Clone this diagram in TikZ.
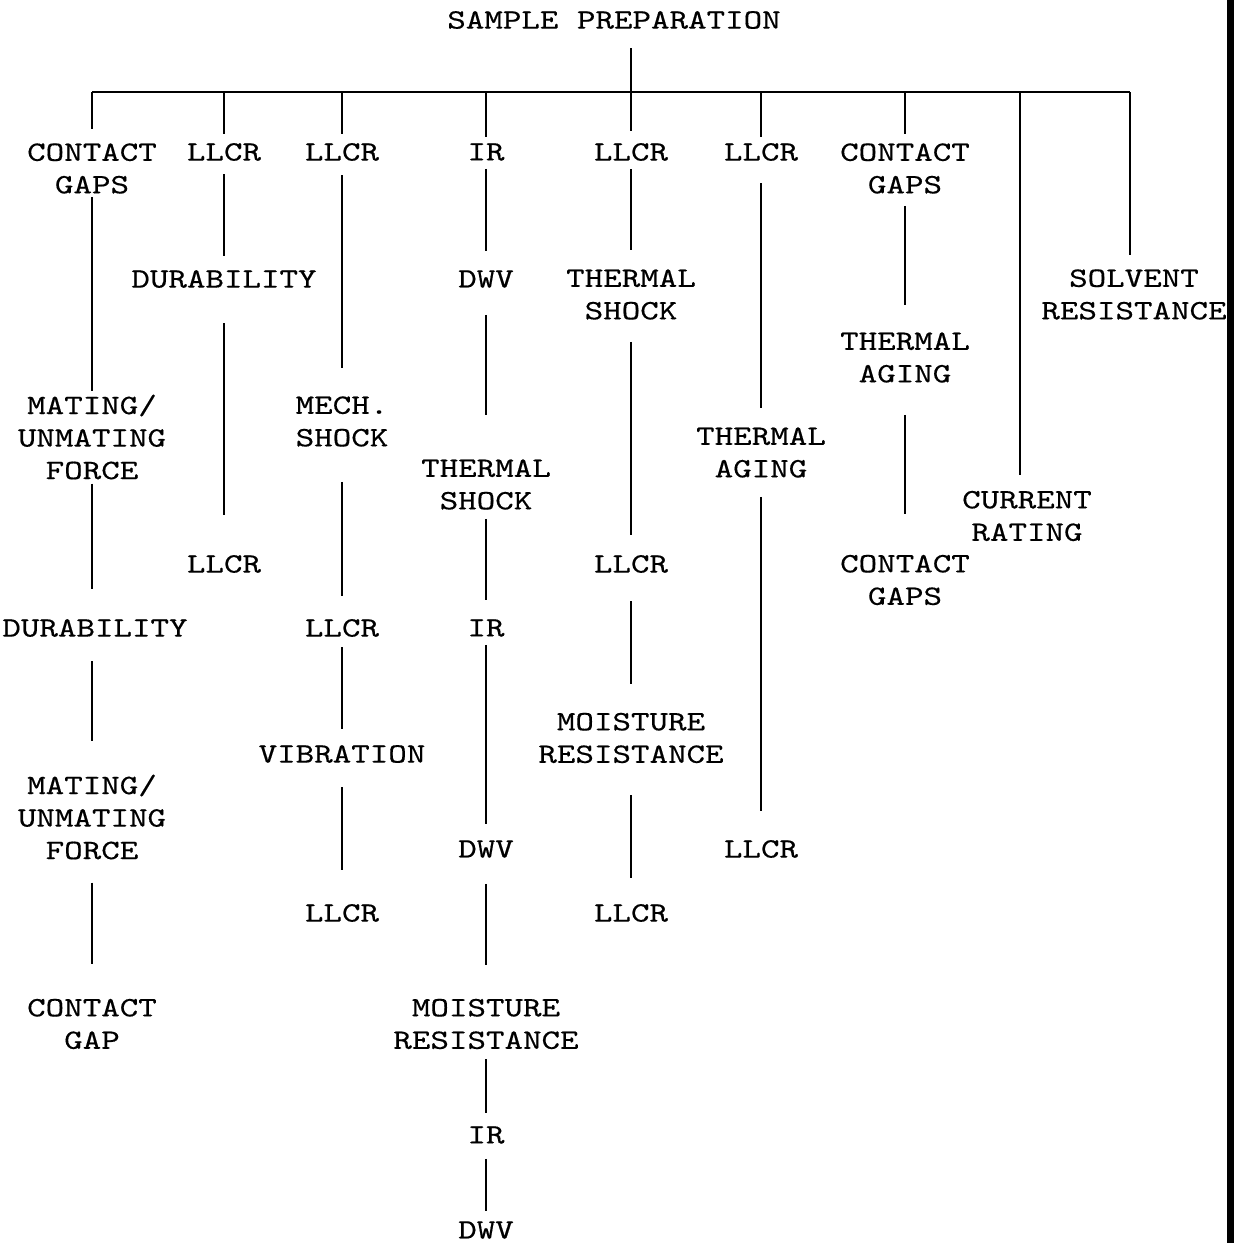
\documentclass[tikz,border=0pt]{standalone}
\usepackage{fontspec}
\newfontfamily\diafont[FakeStretch=1.26, FakeBold=0.4, Extension=.otf]{lmmono10-regular}
\begin{document}
\begin{tikzpicture}[x=1pt,y=-1pt,
  lab/.style={inner sep=0pt, align=center, font=\diafont\fontsize{28}{32.5}\selectfont},
  conn/.style={line width=1.8pt}]
\useasboundingbox (0,0) rectangle (1234,1243);
\fill (1227,0) rectangle (1234,1243);

% nodes
\node[lab] (title) at (614,20) {SAMPLE PREPARATION};

\node[lab] (c1a) at (92,168.5) {CONTACT\\GAPS};
\node[lab] (c1b) at (92,437) {MATING/\\UNMATING\\FORCE};
\node[lab] (c1c) at (95,628) {DURABILITY};
\node[lab] (c1d) at (92,817) {MATING/\\UNMATING\\FORCE};
\node[lab] (c1e) at (92,1024) {CONTACT\\GAP};

\node[lab] (c2a) at (224,152) {LLCR};
\node[lab] (c2b) at (224,279) {DURABILITY};
\node[lab] (c2c) at (224,564) {LLCR};

\node[lab] (c3a) at (342,152) {LLCR};
\node[lab] (c3b) at (342,421.5) {MECH.\\SHOCK};
\node[lab] (c3c) at (342,628) {LLCR};
\node[lab] (c3d) at (342,754) {VIBRATION};
\node[lab] (c3e) at (342,913) {LLCR};

\node[lab] (c4a) at (486,152) {IR};
\node[lab] (c4b) at (486,279) {DWV};
\node[lab] (c4c) at (486,484.5) {THERMAL\\SHOCK};
\node[lab] (c4d) at (486,628) {IR};
\node[lab] (c4e) at (486,849) {DWV};
\node[lab] (c4f) at (486,1024) {MOISTURE\\RESISTANCE};
\node[lab] (c4g) at (486,1135) {IR};
\node[lab] (c4h) at (486,1230) {DWV};

\node[lab] (c5a) at (631,152) {LLCR};
\node[lab] (c5b) at (631,294.5) {THERMAL\\SHOCK};
\node[lab] (c5c) at (631,564) {LLCR};
\node[lab] (c5d) at (631,738) {MOISTURE\\RESISTANCE};
\node[lab] (c5e) at (631,913) {LLCR};

\node[lab] (c6a) at (761,152) {LLCR};
\node[lab] (c6b) at (761,452.5) {THERMAL\\AGING};
\node[lab] (c6c) at (761,849) {LLCR};

\node[lab] (c7a) at (905,168.5) {CONTACT\\GAPS};
\node[lab] (c7b) at (905,357.5) {THERMAL\\AGING};
\node[lab] (c7c) at (905,580) {CONTACT\\GAPS};

\node[lab] (c8) at (1027,516) {CURRENT\\RATING};
\node[lab] (c9) at (1134,294.5) {SOLVENT\\RESISTANCE};

% bus
\coordinate (b1) at (92,92);
\coordinate (b2) at (224,92);
\coordinate (b3) at (342,92);
\coordinate (b4) at (486,92);
\coordinate (b6) at (761,92);
\coordinate (b7) at (905,92);
\coordinate (b8) at (1020,92);
\coordinate (b9) at (1130,92);
\draw[conn] (b1) -- (b9);
\draw[conn, shorten <=19pt, shorten >=12pt] (c5a.north |- title.south) -- (c5a.north);
\draw[conn, shorten >=14pt] (b1) -- (b1 |- c1a.north);
\draw[conn, shorten >=9pt] (b2) -- (b2 |- c2a.north);
\draw[conn, shorten >=9pt] (b3) -- (b3 |- c3a.north);
\draw[conn, shorten >=6pt] (b4) -- (b4 |- c4a.north);
\draw[conn, shorten >=6pt] (b6) -- (b6 |- c6a.north);
\draw[conn, shorten >=9pt] (b7) -- (b7 |- c7a.north);
\draw[conn, shorten >=16pt] (b8) -- (b8 |- c8.north);
\draw[conn, shorten >=14pt] (b9) -- (b9 |- c9.north);

% column connectors
\draw[conn, shorten <=3pt, shorten >=3pt] (c1a.south) -- (c1a.south |- c1b.north);
\draw[conn, shorten <=4pt, shorten >=30pt] (c1b.south) -- (c1b.south |- c1c.north);
\draw[conn, shorten <=24pt, shorten >=33pt] (c1c.south -| c1b.south) -- (c1b.south |- c1d.north);
\draw[conn, shorten <=23pt, shorten >=35pt] (c1d.south) -- (c1d.south |- c1e.north);

\draw[conn, shorten <=13pt, shorten >=14pt] (c2a.south) -- (c2a.south |- c2b.north);
\draw[conn, shorten <=35pt, shorten >=40pt] (c2b.south) -- (c2b.south |- c2c.north);

\draw[conn, shorten <=14pt, shorten >=28pt] (c3a.south) -- (c3a.south |- c3b.north);
\draw[conn, shorten <=35pt, shorten >=23pt] (c3b.south) -- (c3b.south |- c3c.north);
\draw[conn, shorten <=10pt, shorten >=16pt] (c3c.south) -- (c3c.south |- c3d.north);
\draw[conn, shorten <=24pt, shorten >=34pt] (c3d.south) -- (c3d.south |- c3e.north);

\draw[conn, shorten <=8pt, shorten >=19pt] (c4a.south) -- (c4a.south |- c4b.north);
\draw[conn, shorten <=27pt, shorten >=44pt] (c4b.south) -- (c4b.south |- c4c.north);
\draw[conn, shorten <=9pt, shorten >=19pt] (c4c.south) -- (c4c.south |- c4d.north);
\draw[conn, shorten <=8pt, shorten >=16pt] (c4d.south) -- (c4d.south |- c4e.north);
\draw[conn, shorten <=26pt, shorten >=34pt] (c4e.south) -- (c4e.south |- c4f.north);
\draw[conn, shorten <=10pt, shorten >=13pt] (c4f.south) -- (c4f.south |- c4g.north);
\draw[conn, shorten <=15pt, shorten >=10pt] (c4g.south) -- (c4g.south |- c4h.north);

\draw[conn, shorten <=8pt, shorten >=19pt] (c5a.south) -- (c5a.south |- c5b.north);
\draw[conn, shorten <=22pt, shorten >=20pt] (c5b.south) -- (c5b.south |- c5c.north);
\draw[conn, shorten <=28pt, shorten >=29pt] (c5c.south) -- (c5c.south |- c5d.north);
\draw[conn, shorten <=32pt, shorten >=26pt] (c5d.south) -- (c5d.south |- c5e.north);

\draw[conn, shorten <=22pt, shorten >=19pt] (c6a.south) -- (c6a.south |- c6b.north);
\draw[conn, shorten <=19pt, shorten >=29pt] (c6b.south) -- (c6b.south |- c6c.north);

\draw[conn, shorten <=12pt, shorten >=27pt] (c7a.south) -- (c7a.south |- c7b.north);
\draw[conn, shorten <=32pt, shorten >=41pt] (c7b.south) -- (c7b.south |- c7c.north);
\end{tikzpicture}
\end{document}
